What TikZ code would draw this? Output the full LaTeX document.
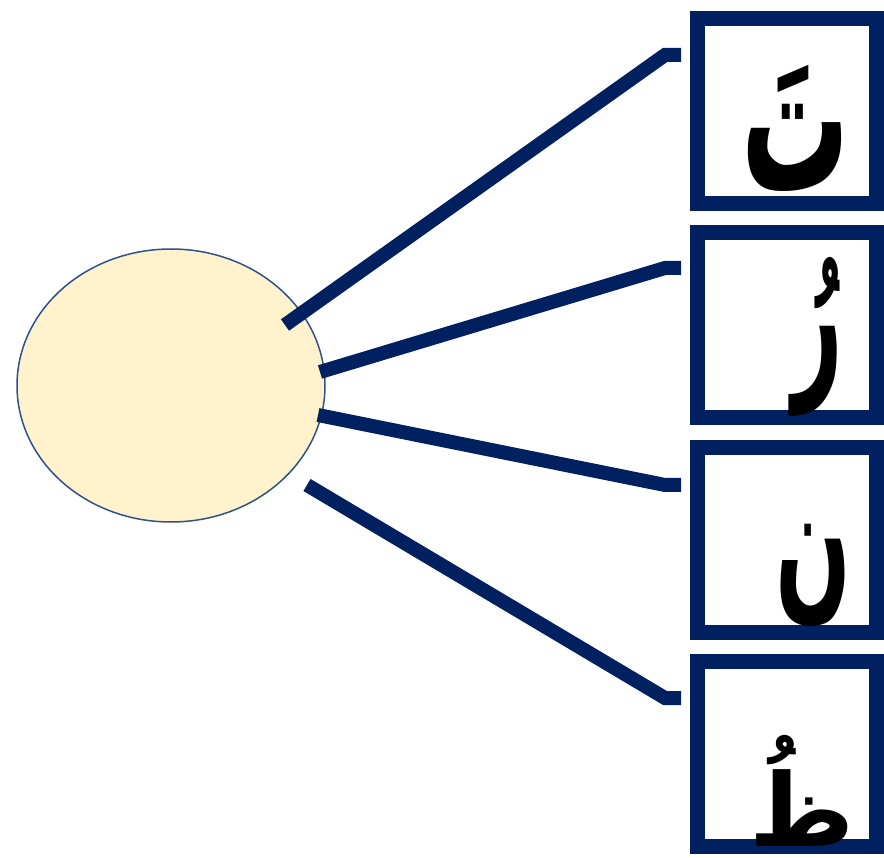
\documentclass[tikz,border=0pt]{standalone}
\usepackage{fontspec}
\newfontfamily\arabicfont[Script=Arabic]{DejaVu Sans}
\TeXXeTstate=1
\usetikzlibrary{shapes.geometric}
\definecolor{navy}{HTML}{002060}
\definecolor{cream}{HTML}{FFF2CC}
\definecolor{rim}{HTML}{2F528F}
\tikzset{
  letterbox/.style={draw=navy, line width=15pt, fill=white, minimum width=179pt, minimum height=185pt, inner sep=0pt},
  hub/.style={ellipse, draw=rim, line width=1.5pt, fill=cream, minimum width=308pt, minimum height=273pt, inner sep=0pt},
  spoke/.style={draw=navy, line width=14pt, line cap=butt, line join=miter},
  glyph/.style={font=\arabicfont\bfseries\fontsize{110}{120}\selectfont, inner sep=0pt}
}
\begin{document}
\begin{tikzpicture}[x=1pt,y=-1pt]
\useasboundingbox (0,0) rectangle (884,858);
\node[hub] (c) at (171,385.5) {};
\node[letterbox] (b1) at (787,111.5) {};
\node[letterbox] (b2) at (787,325) {};
\node[letterbox] (b3) at (787,540) {};
\node[letterbox] (b4) at (787,754) {};
\node[glyph] (t1) at (796,128.5) {\scalebox{0.98}[1.89]{\beginR تَ\endR}};
\node[glyph] (t2) at (818,337) {\scalebox{0.8}[1.6]{\beginR رُ\endR}};
\node[glyph] (t3) at (814,575) {\scalebox{0.81}[1.5]{\beginR ن\endR}};
\node[glyph] (t4) at (802,791) {\scalebox{0.92}[0.92]{\beginR ظُ\endR}};
\coordinate (s1) at (285,325);
\coordinate (s2) at (320,372);
\coordinate (s3) at (318,415);
\coordinate (s4) at (307,485);
\coordinate (k1) at (665,55);
\coordinate (k2) at (665,268);
\coordinate (k3) at (665,485);
\coordinate (k4) at (665,698);
\coordinate (e1) at (681,55);
\coordinate (e2) at (681,268);
\coordinate (e3) at (681,485);
\coordinate (e4) at (681,698);
\draw[spoke] (s1) -- (k1) -- (e1);
\draw[spoke] (s2) -- (k2) -- (e2);
\draw[spoke] (s3) -- (k3) -- (e3);
\draw[spoke] (s4) -- (k4) -- (e4);
\end{tikzpicture}
\end{document}
